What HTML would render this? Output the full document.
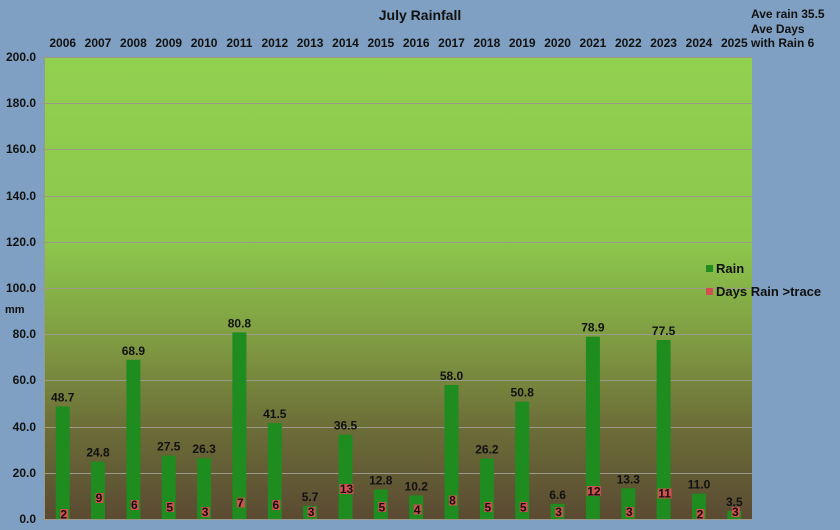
<!DOCTYPE html>
<html><head><style>body{margin:0;background:#7fa0c2}svg{display:block;font-family:"Liberation Sans",Arial,sans-serif;font-weight:bold}</style></head><body>
<svg width="840" height="530" xmlns="http://www.w3.org/2000/svg">
<defs><linearGradient id="g" x1="0" y1="0" x2="0" y2="1">
<stop offset="0" stop-color="#92d050"/><stop offset="0.4" stop-color="#8cc84c"/><stop offset="0.62" stop-color="#7f9a42"/><stop offset="0.8" stop-color="#6c6e38"/><stop offset="1" stop-color="#5a4a32"/></linearGradient></defs>
<rect x="0" y="0" width="840" height="530" fill="#7fa0c2"/>
<rect x="45" y="57" width="707" height="462" fill="url(#g)"/>
<g stroke="#9a9a8a" stroke-width="1">
<line x1="41" x2="752" y1="57.5" y2="57.5"/><line x1="41" x2="752" y1="103.5" y2="103.5"/><line x1="41" x2="752" y1="149.5" y2="149.5"/><line x1="41" x2="752" y1="196.5" y2="196.5"/><line x1="41" x2="752" y1="242.5" y2="242.5"/><line x1="41" x2="752" y1="288.5" y2="288.5"/><line x1="41" x2="752" y1="334.5" y2="334.5"/><line x1="41" x2="752" y1="380.5" y2="380.5"/><line x1="41" x2="752" y1="427.5" y2="427.5"/><line x1="41" x2="752" y1="473.5" y2="473.5"/><line x1="41" x2="752" y1="519.5" y2="519.5"/>
<line x1="44.5" x2="44.5" y1="57" y2="520"/>
</g>
<g font-size="12" text-anchor="end" fill="#111">
<text x="36" y="61">200.0</text><text x="36" y="107">180.0</text><text x="36" y="153">160.0</text><text x="36" y="200">140.0</text><text x="36" y="246">120.0</text><text x="36" y="292">100.0</text><text x="36" y="338">80.0</text><text x="36" y="384">60.0</text><text x="36" y="431">40.0</text><text x="36" y="477">20.0</text><text x="36" y="523">0.0</text>
</g>
<text x="5" y="313" font-size="11" fill="#111">mm</text>
<text x="420" y="20" font-size="14" text-anchor="middle" fill="#111">July Rainfall</text>
<text x="751" y="18" font-size="12" fill="#111">Ave rain 35.5</text>
<text x="751" y="33" font-size="12" fill="#111">Ave Days</text>
<text x="751" y="47" font-size="12" fill="#111">with Rain 6</text>
<rect x="706" y="265" width="7" height="7" fill="#1e8c1e"/><text x="716" y="273" font-size="13" fill="#111">Rain</text>
<rect x="706" y="288" width="7" height="7" fill="#d05050"/><text x="716" y="296" font-size="13" fill="#111">Days Rain &gt;trace</text>
<g font-size="12" text-anchor="middle" fill="#111">
<text x="62.7" y="47">2006</text><text x="98" y="47">2007</text><text x="133.4" y="47">2008</text><text x="168.7" y="47">2009</text><text x="204.1" y="47">2010</text><text x="239.4" y="47">2011</text><text x="274.8" y="47">2012</text><text x="310.1" y="47">2013</text><text x="345.5" y="47">2014</text><text x="380.8" y="47">2015</text><text x="416.2" y="47">2016</text><text x="451.5" y="47">2017</text><text x="486.9" y="47">2018</text><text x="522.2" y="47">2019</text><text x="557.6" y="47">2020</text><text x="592.9" y="47">2021</text><text x="628.3" y="47">2022</text><text x="663.6" y="47">2023</text><text x="699" y="47">2024</text><text x="734.3" y="47">2025</text>
</g>
<g fill="#1e8c1e">
<rect x="55.7" y="406.5" width="14" height="112.5"/><rect x="91" y="461.7" width="14" height="57.3"/><rect x="126.4" y="359.8" width="14" height="159.2"/><rect x="161.7" y="455.5" width="14" height="63.5"/><rect x="197.1" y="458.2" width="14" height="60.8"/><rect x="232.4" y="332.4" width="14" height="186.6"/><rect x="267.8" y="423.1" width="14" height="95.9"/><rect x="303.1" y="505.8" width="14" height="13.2"/><rect x="338.5" y="434.7" width="14" height="84.3"/><rect x="373.8" y="489.4" width="14" height="29.6"/><rect x="409.2" y="495.4" width="14" height="23.6"/><rect x="444.5" y="385" width="14" height="134"/><rect x="479.9" y="458.5" width="14" height="60.5"/><rect x="515.2" y="401.7" width="14" height="117.3"/><rect x="550.6" y="503.8" width="14" height="15.2"/><rect x="585.9" y="336.7" width="14" height="182.3"/><rect x="621.3" y="488.3" width="14" height="30.7"/><rect x="656.6" y="340" width="14" height="179"/><rect x="692" y="493.6" width="14" height="25.4"/><rect x="727.3" y="510.9" width="14" height="8.1"/>
</g>
<g fill="#d05050">
<rect x="60.2" y="509" width="8" height="10"/><rect x="95.5" y="493" width="8" height="10"/><rect x="130.9" y="500" width="8" height="10"/><rect x="166.2" y="502" width="8" height="10"/><rect x="201.6" y="507" width="8" height="10"/><rect x="236.9" y="497.5" width="8" height="10"/><rect x="272.3" y="500" width="8" height="10"/><rect x="307.6" y="507" width="8" height="10"/><rect x="339.5" y="484" width="14" height="10"/><rect x="378.3" y="502" width="8" height="10"/><rect x="413.7" y="504.5" width="8" height="10"/><rect x="449" y="495.5" width="8" height="10"/><rect x="484.4" y="502" width="8" height="10"/><rect x="519.7" y="502" width="8" height="10"/><rect x="555.1" y="507" width="8" height="10"/><rect x="586.9" y="486" width="14" height="10"/><rect x="625.8" y="507" width="8" height="10"/><rect x="657.6" y="488.5" width="14" height="10"/><rect x="696.5" y="509" width="8" height="10"/><rect x="731.8" y="507" width="8" height="10"/>
</g>
<g font-size="12" text-anchor="middle" fill="#111">
<text x="62.7" y="401.5">48.7</text><text x="98" y="456.7">24.8</text><text x="133.4" y="354.8">68.9</text><text x="168.7" y="450.5">27.5</text><text x="204.1" y="453.2">26.3</text><text x="239.4" y="327.4">80.8</text><text x="274.8" y="418.1">41.5</text><text x="310.1" y="500.8">5.7</text><text x="345.5" y="429.7">36.5</text><text x="380.8" y="484.4">12.8</text><text x="416.2" y="490.4">10.2</text><text x="451.5" y="380">58.0</text><text x="486.9" y="453.5">26.2</text><text x="522.2" y="396.7">50.8</text><text x="557.6" y="498.8">6.6</text><text x="592.9" y="331.7">78.9</text><text x="628.3" y="483.3">13.3</text><text x="663.6" y="335">77.5</text><text x="699" y="488.6">11.0</text><text x="734.3" y="505.9">3.5</text>
</g>
<g font-size="12" text-anchor="middle" fill="#111">
<text x="63.7" y="518.4">2</text><text x="99" y="502.2">9</text><text x="134.4" y="509.1">6</text><text x="169.7" y="511.4">5</text><text x="205.1" y="516.1">3</text><text x="240.4" y="506.8">7</text><text x="275.8" y="509.1">6</text><text x="311.1" y="516.1">3</text><text x="346.5" y="493">13</text><text x="381.8" y="511.4">5</text><text x="417.2" y="513.8">4</text><text x="452.5" y="504.5">8</text><text x="487.9" y="511.4">5</text><text x="523.2" y="511.4">5</text><text x="558.6" y="516.1">3</text><text x="593.9" y="495.3">12</text><text x="629.3" y="516.1">3</text><text x="664.6" y="497.6">11</text><text x="700" y="518.4">2</text><text x="735.3" y="516.1">3</text>
</g>
</svg></body></html>
